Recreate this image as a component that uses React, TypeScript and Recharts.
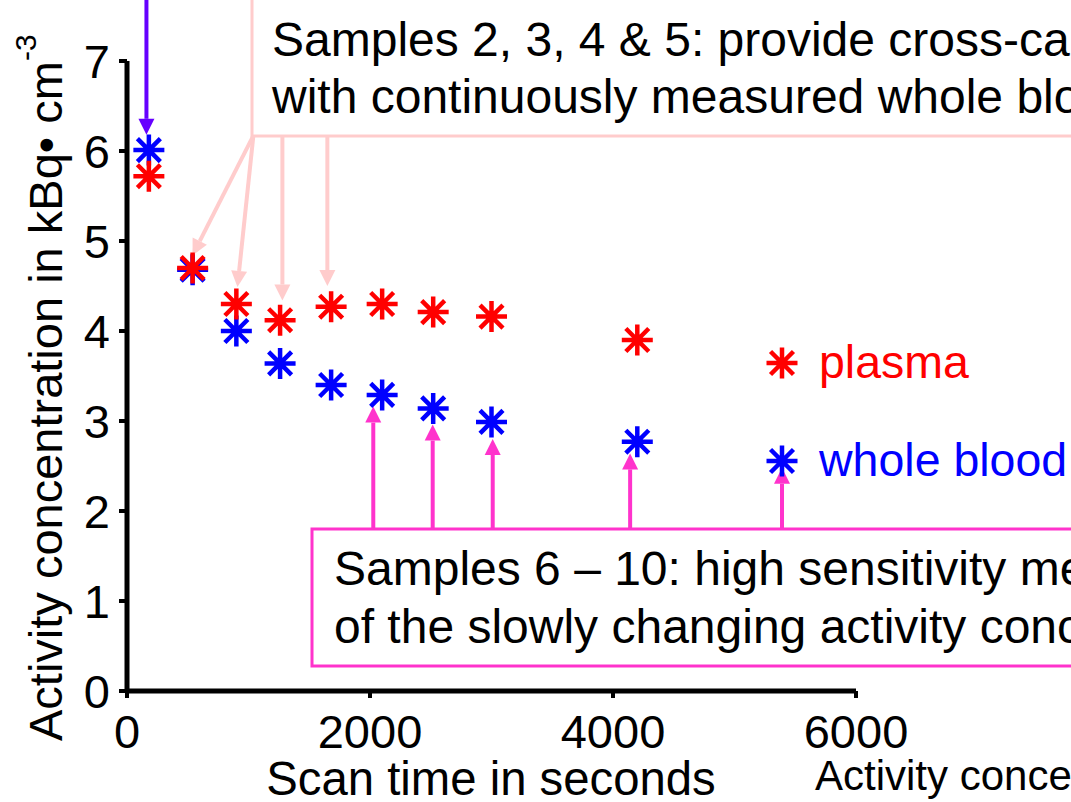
import React from 'react';
import { ScatterChart, Scatter, XAxis, YAxis, ReferenceLine, Legend } from 'recharts';

// scan times (s) and measured activity concentrations (kBq/cm3)
const scanTimes = [180, 540, 900, 1260, 1680, 2100, 2520, 3000, 4200];
const plasma = [5.72, 4.7, 4.3, 4.12, 4.27, 4.3, 4.21, 4.16, 3.9];
const wholeBlood = [6.01, 4.68, 4.0, 3.64, 3.4, 3.29, 3.14, 2.99, 2.77];

const xTicks = [0, 2000, 4000, 6000];
const yTicks = [0, 1, 2, 3, 4, 5, 6, 7];

const plasmaData = scanTimes.map((t, i) => ({ t, v: plasma[i] }));
const bloodData = scanTimes.map((t, i) => ({ t, v: wholeBlood[i] }));

// annotation arrows, in data units: [x, y] tail -> [x, y] tip
const arrows = [
  { from: [160, 7.75], to: [160, 6.18], color: '#6600ff' },
  { from: [1040, 6.17], to: [539, 4.84], color: '#ffcccc' },
  { from: [1040, 6.17], to: [909, 4.49], color: '#ffcccc' },
  { from: [1279, 6.17], to: [1279, 4.34], color: '#ffcccc' },
  { from: [1649, 6.17], to: [1649, 4.5], color: '#ffcccc' },
  { from: [2027, 1.8], to: [2027, 3.16], color: '#ff33cc' },
  { from: [2516, 1.8], to: [2516, 2.96], color: '#ff33cc' },
  { from: [3010, 1.8], to: [3010, 2.8], color: '#ff33cc' },
  { from: [4141, 1.8], to: [4141, 2.64], color: '#ff33cc' },
  { from: [5391, 1.8], to: [5391, 2.48], color: '#ff33cc' },
];

const FONT = '"Liberation Sans", Arial, sans-serif';

const starPath = (cx: number, cy: number, r: number) => {
  const d = r * 0.74;
  return `M${cx - r},${cy}H${cx + r}M${cx},${cy - r}V${cy + r}` +
    `M${cx - d},${cy - d}L${cx + d},${cy + d}M${cx - d},${cy + d}L${cx + d},${cy - d}`;
};

const makeStar = (color: string) => (props: any) => {
  const { cx, cy } = props;
  if (cx == null || cy == null) return <g />;
  return <path d={starPath(cx, cy, 15.5)} stroke={color} strokeWidth={4.5} fill="none" />;
};

const ArrowShape = (props: any) => {
  const { x1, y1, x2, y2, stroke } = props;
  const dx = x2 - x1;
  const dy = y2 - y1;
  const len = Math.sqrt(dx * dx + dy * dy) || 1;
  const ux = dx / len;
  const uy = dy / len;
  const head = 16;
  const half = 8;
  const bx = x2 - ux * head;
  const by = y2 - uy * head;
  return (
    <g>
      <line x1={x1} y1={y1} x2={bx} y2={by} stroke={stroke} strokeWidth={4} />
      <polygon
        points={`${x2},${y2} ${bx - uy * half},${by + ux * half} ${bx + uy * half},${by - ux * half}`}
        fill={stroke}
      />
    </g>
  );
};

const LegendContent = (props: any) => {
  const items = props.payload || [];
  return (
    <svg width={305} height={150} style={{ display: 'block' }}>
      {items.map((it: any, i: number) => (
        <g key={i}>
          <path d={starPath(16, 23 + i * 98, 15.5)} stroke={it.color} strokeWidth={4.5} fill="none" />
          <text x={53} y={38 + i * 98} fontSize={46.5} fill={it.color} fontFamily={FONT}>
            {it.value}
          </text>
        </g>
      ))}
    </svg>
  );
};

const YLabel = () => (
  <text
    x={62}
    y={741}
    transform="rotate(-90, 62, 741)"
    fontSize={47}
    fontFamily={FONT}
    fill="#000"
  >
    Activity concentration in kBq{'\u2022'} cm
    <tspan dy={-26} fontSize={30}>-3</tspan>
  </text>
);

const XLabel = () => (
  <text x={491} y={795} textAnchor="middle" fontSize={47.3} fontFamily={FONT} fill="#000">
    Scan time in seconds
  </text>
);

export default function App() {
  return (
    <div style={{ position: 'absolute', left: 0, top: 0, width: 1071, height: 802, background: '#fff' }}>
      <ScatterChart width={1071} height={802} margin={{ top: 61, right: 215, bottom: 0, left: 0 }}>
        <XAxis
          type="number"
          dataKey="t"
          domain={[0, 6000]}
          ticks={xTicks}
          height={111}
          axisLine={{ stroke: '#000', strokeWidth: 5 }}
          tickLine={{ stroke: '#000', strokeWidth: 4 }}
          tickSize={7}
          tickMargin={17}
          tick={{ fontSize: 47, fill: '#000', fontFamily: FONT }}
          label={XLabel}
        />
        <YAxis
          type="number"
          dataKey="v"
          domain={[0, 7]}
          ticks={yTicks}
          width={127}
          axisLine={{ stroke: '#000', strokeWidth: 5 }}
          tickLine={{ stroke: '#000', strokeWidth: 4 }}
          tickSize={8}
          tickMargin={9}
          tick={{ fontSize: 47, fill: '#000', fontFamily: FONT }}
          label={YLabel}
        />

        {/* annotation boxes */}
        <rect x={252} y={-2} width={900} height={138} fill="none" stroke="#ffcccc" strokeWidth={3} />
        <text x={272} y={56} fontSize={48} fontFamily={FONT} fill="#000">
          Samples 2, 3, 4 &amp; 5: provide cross-calibration
        </text>
        <text x={272} y={113} fontSize={48} fontFamily={FONT} fill="#000">
          with continuously measured whole blood activity
        </text>

        <rect x={312} y={529} width={900} height={137} fill="none" stroke="#ff33cc" strokeWidth={3} />
        <text x={334} y={585} fontSize={48} fontFamily={FONT} fill="#000">
          Samples 6 {'\u2013'} 10: high sensitivity measurement
        </text>
        <text x={334} y={643} fontSize={48} fontFamily={FONT} fill="#000">
          of the slowly changing activity concentration
        </text>

        <text x={815} y={790} fontSize={42} fontFamily={FONT} fill="#000">
          Activity concentration
        </text>

        {arrows.map((a, i) => (
          <ReferenceLine
            key={i}
            segment={[{ x: a.from[0], y: a.from[1] }, { x: a.to[0], y: a.to[1] }]}
            stroke={a.color}
            ifOverflow="visible"
            shape={ArrowShape}
          />
        ))}

        <Scatter name="whole blood" data={bloodData} fill="#0000ff" shape={makeStar('#0000ff')} isAnimationActive={false} />
        <Scatter name="plasma" data={plasmaData} fill="#ff0000" shape={makeStar('#ff0000')} isAnimationActive={false} />

        <Legend
          layout="vertical"
          align="center"
          verticalAlign="middle"
          wrapperStyle={{ left: 766, top: 340, width: 305 }}
          content={(p: any) => <LegendContent payload={[...(p.payload || [])].sort((a: any) => (a.value === 'plasma' ? -1 : 1))} />}
        />
      </ScatterChart>
    </div>
  );
}
